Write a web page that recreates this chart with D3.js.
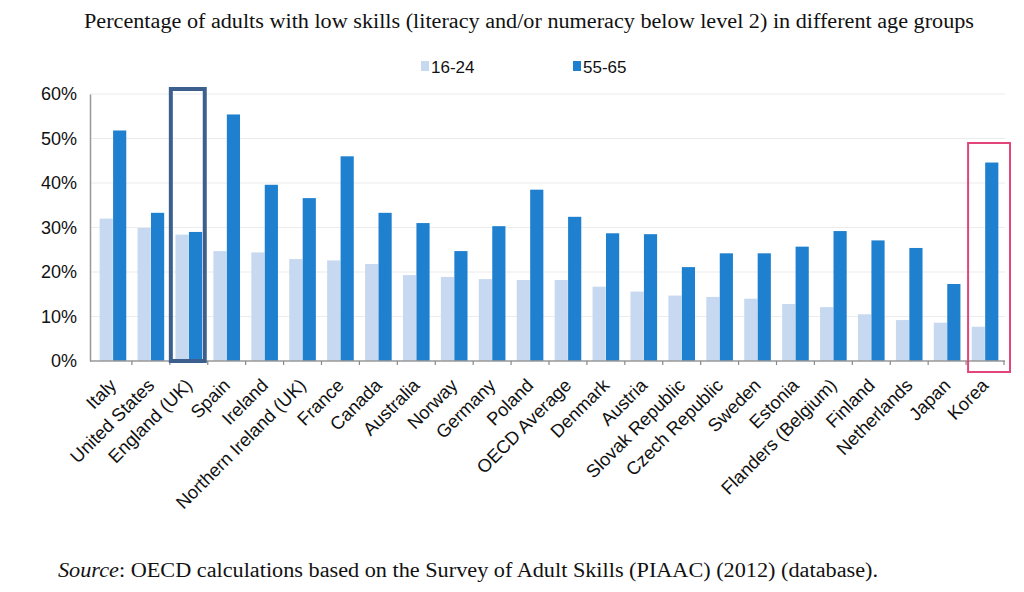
<!DOCTYPE html>
<html><head><meta charset="utf-8">
<script src="https://cdn.jsdelivr.net/npm/d3@7"></script>
<style>body{margin:0;background:#fff}svg{display:block}</style>
</head><body>
<svg id="c" width="1024" height="592"></svg>
<script>
const categories = ["Italy","United States","England (UK)","Spain","Ireland","Northern Ireland (UK)","France","Canada","Australia","Norway","Germany","Poland","OECD Average","Denmark","Austria","Slovak Republic","Czech Republic","Sweden","Estonia","Flanders (Belgium)","Finland","Netherlands","Japan","Korea"];
const young = [32.0,29.9,28.4,24.7,24.4,22.9,22.6,21.8,19.3,18.9,18.4,18.2,18.2,16.7,15.6,14.7,14.4,14.0,12.8,12.1,10.5,9.2,8.6,7.7];
const old = [51.8,33.3,29.0,55.4,39.6,36.6,46.0,33.3,31.0,24.7,30.3,38.5,32.4,28.7,28.5,21.1,24.2,24.2,25.7,29.2,27.1,25.4,17.3,44.6];
const seriesNames = ["16-24","55-65"];
const yTicks = [0,10,20,30,40,50,60];
const title = "Percentage of adults with low skills (literacy and/or numeracy below level 2) in different age groups";
const highlightBlue = "England (UK)";
const highlightPink = "Korea";

const colors = ["#c6d9f0","#1f80cf"];
const svg = d3.select("#c");
const x = d3.scaleBand().domain(categories).range([94, 1004]).paddingInner(0).paddingOuter(0);
const x1 = d3.scaleBand().domain(seriesNames).range([0, x.bandwidth()]).paddingInner(0.02).paddingOuter(0.42);
const y = d3.scaleLinear().domain([0,60]).range([361, 94]);

// title
svg.append("text").attr("x",529).attr("y",28).attr("text-anchor","middle")
  .attr("font-family","Liberation Serif, Times New Roman, serif").attr("font-size",20).attr("fill","#111")
  .attr("textLength",890).attr("lengthAdjust","spacingAndGlyphs").text(title);

// legend
const lg = [{n:seriesNames[0],x:421},{n:seriesNames[1],x:573}];
lg.forEach((d,i)=>{
  svg.append("rect").attr("x",d.x).attr("y",61).attr("width",8).attr("height",10).attr("fill",colors[i]);
  svg.append("text").attr("x",d.x+10).attr("y",73).attr("font-family","Liberation Sans, Arial, sans-serif")
    .attr("font-size",17).attr("fill","#111").text(d.n);
});

// grid
svg.append("g").selectAll("line").data(yTicks.filter(t=>t>0)).join("line")
  .attr("x1",90).attr("x2",1005).attr("y1",d=>y(d)).attr("y2",d=>y(d))
  .attr("stroke","#ececec").attr("stroke-width",1.2);

// y axis
const ya = svg.append("g").attr("transform","translate(90,0)")
  .call(d3.axisLeft(y).tickValues(yTicks).tickFormat(d=>d+"%").tickSize(0).tickPadding(13));
ya.select(".domain").attr("stroke","#999").attr("stroke-width",1.5);
ya.selectAll("text").attr("font-family","Liberation Sans, Arial, sans-serif").attr("font-size",18).attr("fill","#111");

// bars
const g = svg.append("g");
categories.forEach((c,i)=>{
  [young[i],old[i]].forEach((v,j)=>{
    g.append("rect").attr("x",x(c)+x1(seriesNames[j])).attr("width",x1.bandwidth())
      .attr("y",y(v)).attr("height",y(0)-y(v)).attr("fill",colors[j]);
  });
});

// x axis
const xa = svg.append("g").attr("transform","translate(0,361)");
xa.append("line").attr("x1",90).attr("x2",1005).attr("y1",0).attr("y2",0).attr("stroke","#999").attr("stroke-width",1.5);
xa.selectAll("line.tk").data(categories).join("line").attr("class","tk")
  .attr("x1",d=>x(d)+x.bandwidth()).attr("x2",d=>x(d)+x.bandwidth())
  .attr("y1",0).attr("y2",4).attr("stroke","#888").attr("stroke-width",1.2);
xa.selectAll("text").data(categories).join("text")
  .attr("transform",d=>`translate(${x(d)+x.bandwidth()/2},21) rotate(-45)`)
  .attr("text-anchor","end").attr("dy","0.35em")
  .attr("font-family","Liberation Sans, Arial, sans-serif").attr("font-size",18.3).attr("fill","#111").text(d=>d);

// highlight boxes
svg.append("rect").attr("x",x(highlightBlue)+1).attr("y",89).attr("width",x.bandwidth()-4).attr("height",y(0)-89)
  .attr("fill","none").attr("stroke","#3d5f8e").attr("stroke-width",4);
svg.append("rect").attr("x",x(highlightPink)+2).attr("y",143).attr("width",x.bandwidth()+4).attr("height",229)
  .attr("fill","none").attr("stroke","#e2457c").attr("stroke-width",2);

// source
const st = svg.append("text").attr("x",58).attr("y",577).attr("font-family","Liberation Serif, Times New Roman, serif")
  .attr("font-size",20).attr("fill","#111").attr("textLength",820).attr("lengthAdjust","spacingAndGlyphs");
st.append("tspan").attr("font-style","italic").text("Source");
st.append("tspan").text(": OECD calculations based on the Survey of Adult Skills (PIAAC) (2012) (database).");
</script>
</body></html>
